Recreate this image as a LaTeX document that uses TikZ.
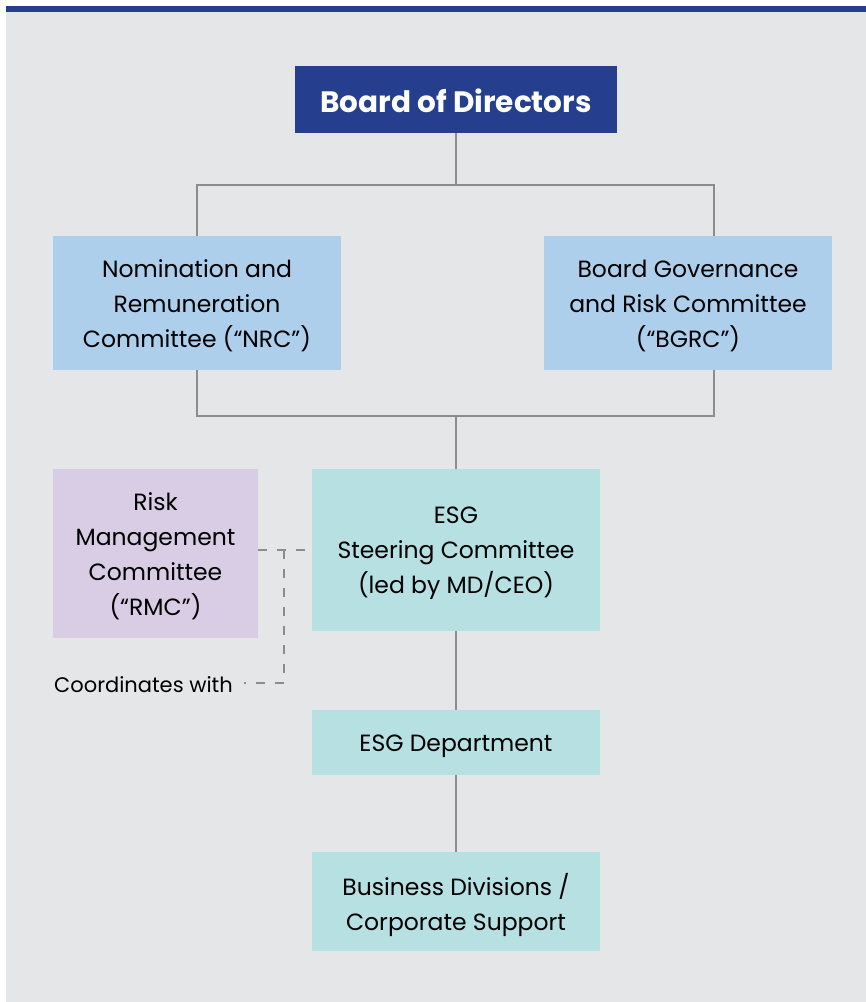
\documentclass[tikz,border=0pt]{standalone}
\usepackage{fontspec}
\setmainfont{Poppins}
\definecolor{bg}{HTML}{E5E6E8}
\definecolor{navy}{HTML}{253F8E}
\definecolor{lblue}{HTML}{AECFEC}
\definecolor{teal}{HTML}{B6E0E2}
\definecolor{lav}{HTML}{D8CDE5}
\definecolor{conn}{HTML}{8C8C8C}
\begin{document}
\begin{tikzpicture}[x=1pt,y=-1pt,
  box/.style={draw=none,inner sep=0pt},
  txt/.style={inner sep=0pt,align=center,text=black,font=\fontsize{23.5}{35}\selectfont},
  link/.style={draw=conn,line width=1.3pt},
  dlink/.style={draw=conn,line width=1.3pt,dash pattern=on 9pt off 10pt}]
\useasboundingbox (0,0) rectangle (866,1002);
\fill[white] (0,0) rectangle (866,1002);
\fill[bg] (6,6) rectangle (866,1002);
\fill[navy] (6,6) rectangle (866,12);
% boxes
\node[box,fill=navy,minimum width=322pt,minimum height=67pt] (bod) at (456,99.5) {};
\node[box,fill=lblue,minimum width=288pt,minimum height=134pt] (nrc) at (197,303) {};
\node[box,fill=lblue,minimum width=288pt,minimum height=134pt] (bgrc) at (688,303) {};
\node[box,fill=lav,minimum width=205pt,minimum height=169pt] (rmc) at (155.5,553.5) {};
\node[box,fill=teal,minimum width=288pt,minimum height=162pt] (esc) at (456,550) {};
\node[box,fill=teal,minimum width=288pt,minimum height=65pt] (dept) at (456,742.5) {};
\node[box,fill=teal,minimum width=288pt,minimum height=99pt] (bus) at (456,901.5) {};
% texts
\node[txt,text=white,font=\fontsize{29.5}{32}\selectfont\bfseries] (bodt) at ([yshift=-1pt]bod.center) {Board of Directors};
\node[txt] (nrct) at ([yshift=-3pt]nrc.center) {Nomination and\\Remuneration\\Committee (“NRC”)};
\node[txt] (bgrct) at ([yshift=-3pt]bgrc.center) {Board Governance\\and Risk Committee\\(“BGRC”)};
\node[txt] (rmct) at ([yshift=-3pt]rmc.center) {Risk\\Management\\Committee\\(“RMC”)};
\node[txt] (esct) at ([yshift=-3.5pt]esc.center) {ESG\\Steering Committee\\(led by MD/CEO)};
\node[txt] (deptt) at ([yshift=-3.5pt]dept.center) {ESG Department};
\node[txt] (bust) at ([yshift=-3.5pt]bus.center) {Business Divisions /\\Corporate Support};
\node[txt,anchor=east,font=\fontsize{21}{24}\selectfont] (coord) at (233,685) {Coordinates with};
\coordinate (top1) at (456,185);
\coordinate (topr) at (714,185);
\coordinate (bot1) at (456,416);
\coordinate (botr) at (714,416);
\coordinate (dj) at (284,550);
\coordinate (dc) at (284,683);
\coordinate (de) at (244,683);
% connectors
\draw[link] (bod.south) -- (top1);
\draw[link] (nrc.north) |- (top1) -- (topr) -- (topr |- bgrc.north);
\draw[link] (nrc.south) |- (bot1) -- (botr) -- (botr |- bgrc.south);
\draw[link] (bot1) -- (esc.north);
\draw[link] (esc.south) -- (dept.north);
\draw[link] (dept.south) -- (bus.north);
\draw[dlink] (rmc.east |- dj) -- (esc.west |- dj);
\draw[dlink] (dj) -- (dc) -- (de);
\end{tikzpicture}
\end{document}
